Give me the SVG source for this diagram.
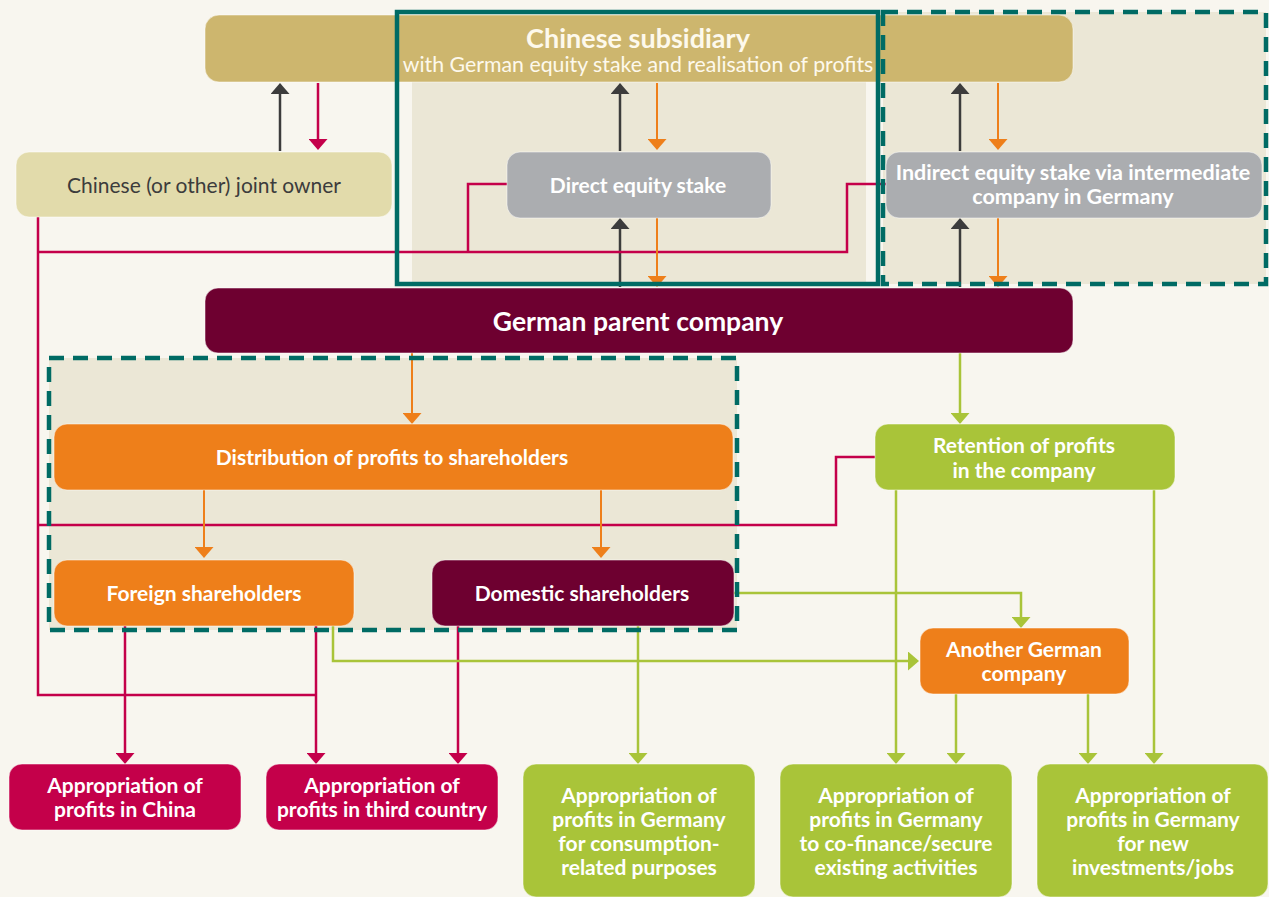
<svg xmlns="http://www.w3.org/2000/svg" width="1269" height="897" viewBox="0 0 1269 897">
  <style>
    .t { font-family: Lato, "Liberation Sans", sans-serif; fill: #ffffff; text-anchor: middle; font-weight: 700; font-size: 21px; }
    .reg { font-weight: 400; }
    .dk { fill: #3c3c3c; }
    .box { stroke: #ffffff; stroke-opacity: 0.5; stroke-width: 1; }
    .c { fill: none; stroke-width: 2.5; }
    .dark { stroke: #3c3c3c; }
    .red { stroke: #c4004a; }
    .org { stroke: #ee7f1a; stroke-width: 2; }
    .grn { stroke: #a9c439; }
    .dash { fill: none; stroke: #006b64; stroke-width: 4.5; stroke-dasharray: 15 9; }
  </style>
  <defs>
    <marker id="mDark" viewBox="0 0 11 19" refX="7" refY="9.5" markerWidth="11" markerHeight="19" markerUnits="userSpaceOnUse" orient="auto"><path d="M0,0 L11,9.5 L0,19 z" fill="#3c3c3c"/></marker>
    <marker id="mRed" viewBox="0 0 11 19" refX="7" refY="9.5" markerWidth="11" markerHeight="19" markerUnits="userSpaceOnUse" orient="auto"><path d="M0,0 L11,9.5 L0,19 z" fill="#c4004a"/></marker>
    <marker id="mOrg" viewBox="0 0 11 19" refX="7" refY="9.5" markerWidth="11" markerHeight="19" markerUnits="userSpaceOnUse" orient="auto"><path d="M0,0 L11,9.5 L0,19 z" fill="#ee7f1a"/></marker>
    <marker id="mGrn" viewBox="0 0 11 19" refX="7" refY="9.5" markerWidth="11" markerHeight="19" markerUnits="userSpaceOnUse" orient="auto"><path d="M0,0 L11,9.5 L0,19 z" fill="#a9c439"/></marker>
  </defs>

  <!-- page -->
  <rect x="0" y="0" width="1269" height="897" fill="#f8f6ef"/>

  <!-- panels behind the ownership area -->
  <g id="panels">
    <rect x="412" y="60" width="454" height="223" fill="#ebe7d6"/>
    <rect x="883" y="12" width="383" height="272" fill="#ebe7d6"/>
    <rect x="49" y="358" width="688" height="272" fill="#ebe7d6"/>
  </g>

  <g id="subsidiary">
    <rect class="box" x="205" y="15" width="868" height="67" rx="14" fill="#cdb66e"/>
    <text class="t" x="638" y="48" style="fill:#fdf9ec;font-size:27px">Chinese subsidiary</text>
    <text class="t reg" x="638" y="72" style="fill:#fdf9ec;font-size:21.3px">with German equity stake and realisation of profits</text>
  </g>

  <!-- connectors -->
  <g id="connectors">
    <path class="c dark" d="M280,151 V87" marker-end="url(#mDark)"/>
    <path class="c dark" d="M620,151 V87" marker-end="url(#mDark)"/>
    <path class="c dark" d="M960,151 V87" marker-end="url(#mDark)"/>
    <path class="c dark" d="M620,287 V222" marker-end="url(#mDark)"/>
    <path class="c dark" d="M960,287 V222" marker-end="url(#mDark)"/>

    <path class="c red" d="M318,83 V146" marker-end="url(#mRed)"/>
    <path class="c red" d="M38,217 V695 H316"/>
    <path class="c red" d="M38,252 H847 V184 H886"/>
    <path class="c red" d="M468,252 V184 H507"/>
    <path class="c red" d="M38,525 H836 V457 H875"/>
    <path class="c red" d="M125,626 V760" marker-end="url(#mRed)"/>
    <path class="c red" d="M316,626 V760" marker-end="url(#mRed)"/>
    <path class="c red" d="M458,626 V760" marker-end="url(#mRed)"/>

    <path class="c org" d="M657,83 V146" marker-end="url(#mOrg)"/>
    <path class="c org" d="M998,83 V146" marker-end="url(#mOrg)"/>
    <path class="c org" d="M657,218 V283" marker-end="url(#mOrg)"/>
    <path class="c org" d="M998,218 V283" marker-end="url(#mOrg)"/>
    <path class="c org" d="M412,353 V420" marker-end="url(#mOrg)"/>
    <path class="c org" d="M204,490 V554" marker-end="url(#mOrg)"/>
    <path class="c org" d="M601,490 V554" marker-end="url(#mOrg)"/>

    <path class="c grn" d="M960,353 V420" marker-end="url(#mGrn)"/>
    <path class="c grn" d="M896,490 V760" marker-end="url(#mGrn)"/>
    <path class="c grn" d="M1154,490 V760" marker-end="url(#mGrn)"/>
    <path class="c grn" d="M734,593 H1021 V624" marker-end="url(#mGrn)"/>
    <path class="c grn" d="M333,626 V661 H915" marker-end="url(#mGrn)"/>
    <path class="c grn" d="M638,626 V760" marker-end="url(#mGrn)"/>
    <path class="c grn" d="M956,694 V760" marker-end="url(#mGrn)"/>
    <path class="c grn" d="M1088,694 V760" marker-end="url(#mGrn)"/>
  </g>

  <!-- frames -->
  <g id="frames">
    <rect x="397" y="12" width="481" height="272" fill="none" stroke="#006b64" stroke-width="4.5"/>
    <rect class="dash" x="883" y="12" width="383" height="272"/>
    <rect class="dash" x="49" y="358" width="688" height="272"/>
  </g>

  <g id="joint-owner">
    <rect class="box" x="16" y="152" width="376" height="65" rx="13" fill="#e2dbab"/>
    <text class="t reg dk" x="204" y="192.5">Chinese (or other) joint owner</text>
  </g>
  <g id="direct-stake">
    <rect class="box" x="507" y="152" width="264" height="66" rx="13" fill="#abadb0"/>
    <text class="t" x="638" y="192.5">Direct equity stake</text>
  </g>
  <g id="indirect-stake">
    <rect class="box" x="886" y="152" width="376" height="66" rx="13" fill="#abadb0"/>
    <text class="t" x="1073" y="180" style="font-size:21.5px">Indirect equity stake via intermediate</text>
    <text class="t" x="1073" y="204" style="font-size:21.5px">company in Germany</text>
  </g>
  <g id="parent">
    <rect class="box" x="205" y="288" width="868" height="65" rx="13" fill="#6e0030"/>
    <text class="t" x="638" y="331" style="font-size:26.5px">German parent company</text>
  </g>
  <g id="distribution">
    <rect class="box" x="54" y="424" width="679" height="66" rx="13" fill="#ee7f1a"/>
    <text class="t" x="392" y="465">Distribution of profits to shareholders</text>
  </g>
  <g id="retention">
    <rect class="box" x="875" y="424" width="300" height="66" rx="13" fill="#a9c439"/>
    <text class="t" x="1024" y="453">Retention of profits</text>
    <text class="t" x="1024" y="478">in the company</text>
  </g>
  <g id="foreign">
    <rect class="box" x="54" y="560" width="300" height="66" rx="13" fill="#ee7f1a"/>
    <text class="t" x="204" y="601">Foreign shareholders</text>
  </g>
  <g id="domestic">
    <rect class="box" x="432" y="560" width="302" height="66" rx="13" fill="#6e0030"/>
    <text class="t" x="582" y="601">Domestic shareholders</text>
  </g>
  <g id="another-company">
    <rect class="box" x="920" y="628" width="209" height="66" rx="13" fill="#ee7f1a"/>
    <text class="t" x="1024" y="657">Another German</text>
    <text class="t" x="1024" y="681">company</text>
  </g>

  <g id="china">
    <rect class="box" x="9" y="764" width="232" height="66" rx="13" fill="#c4004a"/>
    <text class="t" x="125" y="793">Appropriation of</text>
    <text class="t" x="125" y="817">profits in China</text>
  </g>
  <g id="third-country">
    <rect class="box" x="266" y="764" width="232" height="66" rx="13" fill="#c4004a"/>
    <text class="t" x="382" y="793">Appropriation of</text>
    <text class="t" x="382" y="817">profits in third country</text>
  </g>
  <g id="consumption">
    <rect class="box" x="523" y="764" width="232" height="133" rx="13" fill="#a9c439"/>
    <text class="t" x="639" y="803">Appropriation of</text>
    <text class="t" x="639" y="827">profits in Germany</text>
    <text class="t" x="639" y="851">for consumption-</text>
    <text class="t" x="639" y="875">related purposes</text>
  </g>
  <g id="existing">
    <rect class="box" x="780" y="764" width="232" height="133" rx="13" fill="#a9c439"/>
    <text class="t" x="896" y="803">Appropriation of</text>
    <text class="t" x="896" y="827">profits in Germany</text>
    <text class="t" x="896" y="851">to co-finance/secure</text>
    <text class="t" x="896" y="875">existing activities</text>
  </g>
  <g id="new-investments">
    <rect class="box" x="1037" y="764" width="231" height="133" rx="13" fill="#a9c439"/>
    <text class="t" x="1153" y="803">Appropriation of</text>
    <text class="t" x="1153" y="827">profits in Germany</text>
    <text class="t" x="1153" y="851">for new</text>
    <text class="t" x="1153" y="875">investments/jobs</text>
  </g>
</svg>
